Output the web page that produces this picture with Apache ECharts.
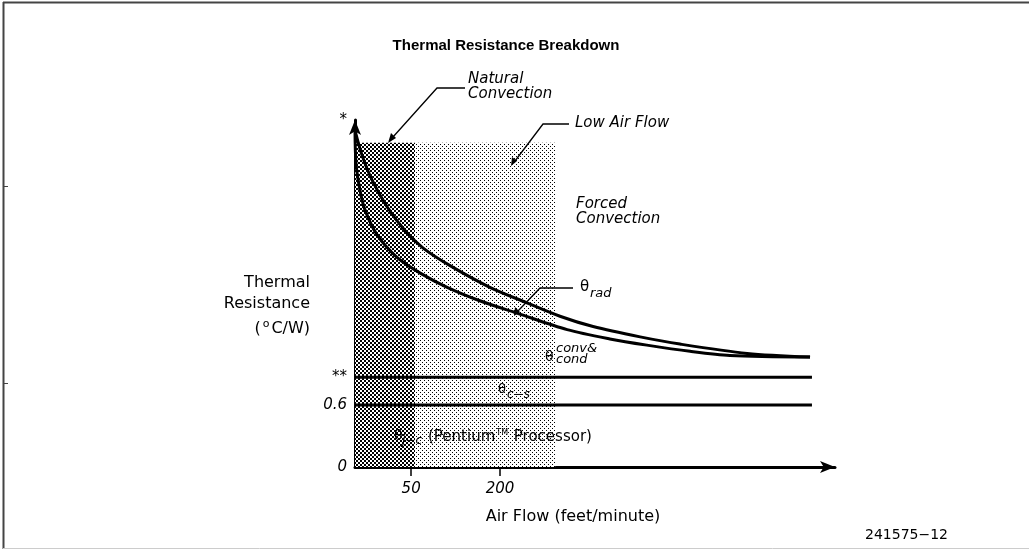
<!DOCTYPE html>
<html>
<head>
<meta charset="utf-8">
<script src="https://cdn.jsdelivr.net/npm/echarts@6/dist/echarts.min.js"></script>
<style>
  html, body { margin: 0; padding: 0; background: #fff; }
  #graphics { width: 1029px; height: 555px; }
</style>
</head>
<body>
<div id="graphics"></div>
<script>
// schematic air flow axis (arbitrary units) and thermal resistance values
const xTickValues = [11.7, 30.2];
const xTickLabels = ['50', '200'];
const yTickValues = [0, 0.6, 0.87, 3.36];
const yTickLabels = ['0', '0.6', '**', '*'];

// theta_rad (upper) curve
const radX = [0, 1.46, 3.54, 6.67, 10.4, 14.2, 19.8, 28.1, 35.8, 42.7, 49.6, 59.4, 67.7, 81.7, 94.8];
const radY = [3.26, 3.02, 2.78, 2.52, 2.29, 2.12, 1.95, 1.74, 1.59, 1.46, 1.36, 1.26, 1.19, 1.10, 1.065];

// theta_conv & cond (lower) curve
const condX = [0, 0.21, 1.04, 2.08, 4.58, 8.75, 13.5, 19.2, 26.0, 33.75, 44.2, 53.1, 60.8, 69.8, 78.1, 94.8];
const condY = [3.26, 2.94, 2.68, 2.49, 2.25, 2.03, 1.88, 1.74, 1.61, 1.49, 1.33, 1.24, 1.18, 1.12, 1.08, 1.065];

// flat levels: theta c-s top (**) and theta j-c top (0.6)
const levelX = [0, 95.2];
const csLevel = 0.87;
const jcLevel = 0.6;

// air flow regimes
const naturalRange = [0, 12.5];
const lowFlowRange = [12.5, 41.7];
const regimeTop = 3.14;

function makePattern(dots) {
    const c = document.createElement('canvas');
    c.width = 4; c.height = 4;
    const ctx = c.getContext('2d');
    ctx.fillStyle = '#fff';
    ctx.fillRect(0, 0, 4, 4);
    ctx.fillStyle = '#000';
    dots.forEach(d => ctx.fillRect(d[0], d[1], d[2], d[3]));
    return { image: c, repeat: 'repeat' };
}
const darkPattern = makePattern([[0, 0, 2, 2], [2, 2, 2, 2]]);
const lightPattern = makePattern([[0, 0, 1, 1], [2, 2, 1, 1]]);

function zip(xs, ys) { return xs.map((x, i) => [x, ys[i]]); }

const curveStyle = { color: '#000', width: 3 };
const italic = { fontFamily: 'DejaVu Sans', fontStyle: 'italic', fill: '#000' };

function txt(x, y, text, size, extra) {
    return { type: 'text', z: 100, x: x, y: y, style: Object.assign({ text: text, fontSize: size, fill: '#000', fontFamily: 'DejaVu Sans' }, extra || {}) };
}
function leader(points, tip) {
    return [
        { type: 'polyline', z: 100, shape: { points: points }, style: { stroke: '#000', lineWidth: 1.3, fill: null } },
        { type: 'polygon', z: 100, shape: { points: tip }, style: { fill: '#000' } }
    ];
}

const myChart = echarts.init(document.getElementById('graphics'));

const option = {
    animation: false,
    backgroundColor: '#fff',
    grid: { left: 355, right: 194, top: 120, bottom: 88 },
    xAxis: {
        type: 'value', min: 0, max: 100,
        splitLine: { show: false },
        axisLine: { lineStyle: { color: '#000', width: 3 }, symbol: ['none', 'arrow'], symbolSize: [9, 15] },
        axisTick: { show: true, customValues: xTickValues, length: 9, lineStyle: { color: '#000', width: 1.5 } },
        axisLabel: {
            customValues: xTickValues, margin: 15, color: '#000', fontSize: 15, fontStyle: 'italic', fontFamily: 'DejaVu Sans',
            formatter: v => xTickLabels[xTickValues.indexOf(v)]
        }
    },
    yAxis: {
        type: 'value', min: 0, max: 3.36,
        splitLine: { show: false },
        axisLine: { lineStyle: { color: '#000', width: 3 }, symbol: ['none', 'arrow'], symbolSize: [9, 15] },
        axisTick: { show: false },
        axisLabel: {
            customValues: yTickValues, margin: 8, color: '#000', fontSize: 15, fontStyle: 'italic', fontFamily: 'DejaVu Sans',
            formatter: v => yTickLabels[yTickValues.indexOf(v)]
        }
    },
    series: [
        {
            type: 'line', name: 'regimes', data: [], silent: true,
            markArea: {
                silent: true,
                data: [
                    [{ xAxis: naturalRange[0], yAxis: 0, itemStyle: { color: darkPattern } }, { xAxis: naturalRange[1], yAxis: regimeTop }],
                    [{ xAxis: lowFlowRange[0], yAxis: 0, itemStyle: { color: lightPattern } }, { xAxis: lowFlowRange[1], yAxis: regimeTop }]
                ]
            }
        },
        { type: 'line', name: 'rad', data: zip(radX, radY), smooth: 0.3, showSymbol: false, lineStyle: curveStyle, z: 5 },
        { type: 'line', name: 'cond', data: zip(condX, condY), smooth: 0.3, showSymbol: false, lineStyle: curveStyle, z: 5 },
        { type: 'line', name: 'cs', data: levelX.map(x => [x, csLevel]), showSymbol: false, lineStyle: curveStyle, z: 5 },
        { type: 'line', name: 'jc', data: levelX.map(x => [x, jcLevel]), showSymbol: false, lineStyle: curveStyle, z: 5 }
    ],
    graphic: [
        // frame
        { type: 'line', shape: { x1: 3, y1: 2.5, x2: 1029, y2: 2.5 }, style: { stroke: '#444', lineWidth: 2 } },
        { type: 'line', shape: { x1: 3.5, y1: 2, x2: 3.5, y2: 549 }, style: { stroke: '#444', lineWidth: 2 } },
        { type: 'line', shape: { x1: 3, y1: 548.5, x2: 1029, y2: 548.5 }, style: { stroke: '#ccc', lineWidth: 1 } },
        { type: 'line', shape: { x1: 4, y1: 186.5, x2: 8, y2: 186.5 }, style: { stroke: '#444', lineWidth: 1 } },
        { type: 'line', shape: { x1: 4, y1: 383.5, x2: 8, y2: 383.5 }, style: { stroke: '#444', lineWidth: 1 } },

        txt(506, 38, 'Thermal Resistance Breakdown', 15, { fontWeight: 'bold', align: 'center', fontFamily: 'Liberation Sans' }),
        txt(310, 275, 'Thermal', 16, { align: 'right' }),
        txt(310, 296, 'Resistance', 16, { align: 'right' }),
        txt(310, 319, '({s|o}C/W)', 16, { align: 'right', rich: { s: { fontSize: 11, fontFamily: 'DejaVu Sans', padding: [0, 2, 8, 2] } } }),
        txt(573, 509, 'Air Flow (feet/minute)', 16, { align: 'center' }),
        txt(865, 528, '241575\u221212', 14),

        txt(468, 72, 'Natural', 15, italic),
        txt(468, 87, 'Convection', 15, italic),
        ...leader([[465, 88], [437, 88], [393, 137]], [[388, 143], [391, 133], [396, 138]]),
        txt(575, 116, 'Low Air Flow', 15, italic),
        txt(576, 197, 'Forced', 15, italic),
        txt(576, 212, 'Convection', 15, italic),
        ...leader([[569, 124], [543, 124], [515, 161]], [[511, 166], [512, 157], [517, 161]]),

        txt(580, 280, '\u03b8', 15),
        txt(590, 287, 'rad', 13, italic),
        ...leader([[573, 288], [540, 288], [518, 311]], [[514, 316], [515, 307], [520, 312]]),

        txt(545, 350, '\u03b8', 14),
        txt(556, 342, 'conv&', 13, italic),
        txt(556, 353, 'cond', 13, italic),

        txt(498, 383, '\u03b8', 13),
        txt(507, 389, 'c\u2212s', 12, italic),

        txt(394, 429, '\u03b8', 14),
        txt(402, 435, 'j\u2212c', 12, italic),
        txt(428, 429, '(Pentium{s|TM} Processor)', 15, { rich: { s: { fontSize: 8, fontFamily: 'DejaVu Sans', padding: [0, 1, 8, 1] } } })
    ]
};

myChart.setOption(option);
</script>
</body>
</html>
